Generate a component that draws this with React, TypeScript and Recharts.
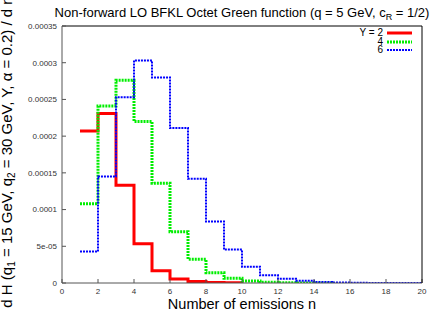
import React from 'react';
import { LineChart, Line, XAxis, YAxis, Legend } from 'recharts';

// number of emissions n
const emissions = [1, 2, 3, 4, 5, 6, 7, 8, 9, 10, 11, 12, 13, 14, 15, 16, 17, 18, 19, 20];

// dH/dn for Y = 2, 4, 6
const y2Values = [0.000207, 0.000231, 0.000133, 0.0000533, 0.0000168, 0.0000055, 0.000002, 0.0000007, 0.0000002, 0.0000001];
const y4Values = [
  0.000108, 0.000241, 0.000276, 0.00022, 0.000136, 0.0000697, 0.0000324, 0.0000141, 0.0000064, 0.0000027,
  0.000001, 0.0000004, 0.00000015, 0.00000005, 0.00000002,
];
const y6Values = [
  0.0000428, 0.000145, 0.000253, 0.000303, 0.00028, 0.000211, 0.000142, 0.0000838, 0.0000455, 0.0000223,
  0.0000105, 0.0000059, 0.0000031, 0.0000015, 0.0000007, 0.0000003, 0.00000015, 0.00000007, 0.00000003, 0.00000001,
];

const xTicks = [0, 2, 4, 6, 8, 10, 12, 14, 16, 18, 20];
const yTicks = [0, 0.00005, 0.0001, 0.00015, 0.0002, 0.00025, 0.0003, 0.00035];
const yTickLabels = ['0', '5e-05', '0.0001', '0.00015', '0.0002', '0.00025', '0.0003', '0.00035'];

const SERIES = [
  { key: 'y2', name: 'Y = 2', color: '#ff0000', width: 3, dash: undefined as string | undefined },
  { key: 'y4', name: '4', color: '#00ee00', width: 3, dash: '2 1' },
  { key: 'y6', name: '6', color: '#0000ff', width: 2, dash: '2 1' },
];

const data = emissions.map((n, i) => ({
  n,
  y2: y2Values[i],
  y4: y4Values[i],
  y6: y6Values[i],
}));

const FONT = '"Liberation Sans", Arial, Helvetica, sans-serif';
const tickStyle = { fontSize: 8, fill: '#333', fontFamily: FONT };

function LegendBox() {
  return (
    <div style={{ fontFamily: FONT, fontSize: 10, lineHeight: '8.6px', color: '#000' }}>
      {SERIES.map((s) => (
        <div key={s.key} style={{ display: 'flex', alignItems: 'center', justifyContent: 'flex-end', height: 8.6 }}>
          <span style={{ marginRight: 4 }}>{s.name}</span>
          <svg width={26} height={6}>
            <line x1={0} x2={25} y1={3} y2={3} stroke={s.color} strokeWidth={s.width} strokeDasharray={s.dash} />
          </svg>
        </div>
      ))}
    </div>
  );
}

export default function App() {
  return (
    <div style={{ position: 'absolute', left: 0, top: 0, width: 436, height: 310, background: '#fff' }}>
      <LineChart width={436} height={310} data={data} margin={{ top: 25, right: 13, bottom: 0, left: 0 }}>
        <XAxis
          xAxisId="bottom"
          dataKey="n"
          type="number"
          domain={[0, 20]}
          ticks={xTicks}
          height={27}
          axisLine={{ stroke: '#555' }}
          tickLine={{ stroke: '#555' }}
          tickSize={-4}
          tickMargin={9}
          tick={tickStyle}
          label={{
            content: ({ viewBox }: any) => (
              <text
                x={viewBox.x + viewBox.width / 2}
                y={309}
                textAnchor="middle"
                fontSize={14.5}
                fontFamily={FONT}
                fill="#000"
              >
                Number of emissions n
              </text>
            ),
          }}
        />
        <XAxis
          xAxisId="top"
          orientation="top"
          dataKey="n"
          type="number"
          domain={[0, 20]}
          ticks={xTicks}
          height={1}
          axisLine={{ stroke: '#000' }}
          tickLine={{ stroke: '#555' }}
          tickSize={-4}
          tick={false}
          label={{
            content: ({ viewBox }: any) => (
              <text x={viewBox.x + viewBox.width / 2} y={17} textAnchor="middle" fontSize={13} fontFamily={FONT} fill="#000">
                Non-forward LO BFKL Octet Green function (q = 5 GeV, c
                <tspan fontSize={9} dy={3}>R</tspan>
                <tspan dy={-3}> = 1/2)</tspan>
              </text>
            ),
          }}
        />
        <YAxis
          yAxisId="left"
          type="number"
          domain={[0, 0.00035]}
          ticks={yTicks}
          width={62}
          allowDataOverflow
          axisLine={{ stroke: '#555' }}
          tickLine={{ stroke: '#555' }}
          tickSize={-4}
          tickMargin={9}
          tick={tickStyle}
          tickFormatter={(v: number) => yTickLabels[yTicks.indexOf(v)] ?? String(v)}
          label={{
            content: () => (
              <text
                x={11.5}
                y={152}
                transform="rotate(-90, 11.5, 152)"
                textAnchor="middle"
                fontSize={15}
                fontFamily={FONT}
                fill="#000"
              >
                d H (q
                <tspan fontSize={10} dy={3}>1</tspan>
                <tspan dy={-3}> = 15 GeV, q</tspan>
                <tspan fontSize={10} dy={3}>2</tspan>
                <tspan dy={-3}> = 30 GeV, Y, α = 0.2) / d n</tspan>
              </text>
            ),
          }}
        />
        <YAxis
          yAxisId="right"
          orientation="right"
          type="number"
          domain={[0, 0.00035]}
          ticks={yTicks}
          width={1}
          axisLine={{ stroke: '#000' }}
          tickLine={{ stroke: '#555' }}
          tickSize={-4}
          tick={false}
        />
        <Legend
          layout="vertical"
          align="center"
          verticalAlign="middle"
          wrapperStyle={{ top: 29, left: 300, width: 113 }}
          content={() => <LegendBox />}
        />
        {SERIES.map((s) => (
          <Line
            key={s.key}
            xAxisId="bottom"
            yAxisId="left"
            dataKey={s.key}
            name={s.name}
            type="stepAfter"
            stroke={s.color}
            strokeWidth={s.width}
            strokeDasharray={s.dash}
            dot={false}
            activeDot={false}
            isAnimationActive={false}
            strokeLinecap="butt"
          />
        ))}
      </LineChart>
    </div>
  );
}
